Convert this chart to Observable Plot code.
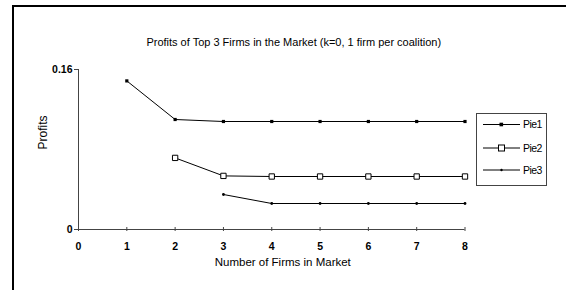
<!DOCTYPE html>
<html><head><meta charset="utf-8">
<script src="https://cdn.jsdelivr.net/npm/d3@7"></script>
<script src="https://cdn.jsdelivr.net/npm/@observablehq/plot@0.6"></script>
<style>
html,body{margin:0;padding:0;background:#fff;overflow:hidden;}
#wrap{position:relative;width:566px;height:290px;overflow:hidden;}
#frame{position:absolute;left:12px;top:5px;width:700px;height:400px;border-left:2px solid #000;border-top:2px solid #000;}
#chart{position:absolute;left:0;top:0;}
</style></head>
<body><div id="wrap"><div id="frame"></div><div id="chart"></div></div>
<script>
const title = "Profits of Top 3 Firms in the Market (k=0, 1 firm per coalition)";
const xLabel = "Number of Firms in Market";
const yLabel = "Profits";
const seriesNames = ["Pie1", "Pie2", "Pie3"];
const pie1X = [1, 2, 3, 4, 5, 6, 7, 8];
const pie1Y = [0.1486, 0.110, 0.108, 0.108, 0.108, 0.108, 0.108, 0.108];
const pie2X = [2, 3, 4, 5, 6, 7, 8];
const pie2Y = [0.0716, 0.0536, 0.053, 0.053, 0.053, 0.053, 0.053];
const pie3X = [3, 4, 5, 6, 7, 8];
const pie3Y = [0.035, 0.026, 0.026, 0.026, 0.026, 0.026];
const xTicks = [0, 1, 2, 3, 4, 5, 6, 7, 8];
const yTicks = [0, 0.16];
const yTickLabels = ["0", "0.16"];

const mk = (xs, ys, s) => xs.map((x, i) => ({x, y: ys[i], s}));
const p1 = mk(pie1X, pie1Y, "Pie1");
const p2 = mk(pie2X, pie2Y, "Pie2");
const p3 = mk(pie3X, pie3Y, "Pie3");
const font = "Liberation Sans, Arial, sans-serif";

const chart = Plot.plot({
  width: 566, height: 290,
  marginLeft: 78, marginRight: 101.5, marginTop: 69, marginBottom: 61,
  style: {fontFamily: font, fontSize: "10.5px", color: "#000", background: "transparent"},
  x: {domain: [0, 8]},
  y: {domain: [0, 0.16]},
  marks: [
    Plot.ruleY([0], {x1: 0, x2: 8, stroke: "#444", strokeWidth: 1}),
    Plot.ruleX([0], {y1: 0, y2: 0.16, stroke: "#444", strokeWidth: 1}),
    Plot.axisX({ticks: xTicks, tickSize: 4, dy: -2, text: null, stroke: "#444", label: null}),
    Plot.axisX({ticks: xTicks, tickSize: 0, tickPadding: 13, label: null, fontWeight: "bold", fill: "#000"}),
    Plot.axisY({ticks: yTicks, tickSize: 4, tickPadding: 2, tickFormat: (d, i) => yTickLabels[i], label: null, stroke: "#444", fontWeight: "bold", fill: "#000", letterSpacing: -0.5}),
    Plot.line(p1, {x: "x", y: "y", stroke: "#000", strokeWidth: 1}),
    Plot.line(p2, {x: "x", y: "y", stroke: "#000", strokeWidth: 1}),
    Plot.line(p3, {x: "x", y: "y", stroke: "#000", strokeWidth: 1}),
    Plot.dot(p1, {x: "x", y: "y", symbol: "square", r: 1.8, fill: "#000", stroke: null}),
    Plot.dot(p2, {x: "x", y: "y", symbol: "square", r: 3, fill: "#fff", stroke: "#000", strokeWidth: 1}),
    Plot.dot(p3, {x: "x", y: "y", r: 1.4, fill: "#000", stroke: null}),
    Plot.text([title], {frameAnchor: "top", dy: -31, dx: 22, fontSize: 11, letterSpacing: -0.25, fill: "#000"}),
    Plot.text([yLabel], {frameAnchor: "left", dx: -35, rotate: -90, fontSize: 12, fill: "#000"}),
    Plot.text([xLabel], {frameAnchor: "bottom", dy: 36, dx: 11, fontSize: 11.5, letterSpacing: -0.1, fill: "#000"})
  ]
});
document.getElementById("chart").appendChild(chart);

// legend
const svg = d3.select(chart);
const lg = svg.append("g").attr("transform", "translate(476,113)");
lg.append("rect").attr("x", 0.5).attr("y", 0.5).attr("width", 70).attr("height", 72)
  .attr("fill", "#fff").attr("stroke", "#444");
const rowY = [11.5, 35, 57];
seriesNames.forEach((name, i) => {
  const g = lg.append("g").attr("transform", `translate(0,${rowY[i]})`);
  g.append("line").attr("x1", 7).attr("x2", 44).attr("y1", 0).attr("y2", 0).attr("stroke", "#000");
  if (i === 0) g.append("rect").attr("x", 23.5).attr("y", -1.8).attr("width", 3.6).attr("height", 3.6).attr("fill", "#000");
  if (i === 1) g.append("rect").attr("x", 22.5).attr("y", -3).attr("width", 6).attr("height", 6).attr("fill", "#fff").attr("stroke", "#000");
  if (i === 2) g.append("circle").attr("cx", 25.5).attr("cy", 0).attr("r", 1.2).attr("fill", "#000");
  g.append("text").attr("x", 47).attr("y", 0).attr("dy", "0.35em").attr("font-size", 10.5)
    .attr("text-anchor", "start")
    .attr("font-family", font).attr("letter-spacing", -0.6).attr("fill", "#000").text(name);
});
</script>
</body></html>
